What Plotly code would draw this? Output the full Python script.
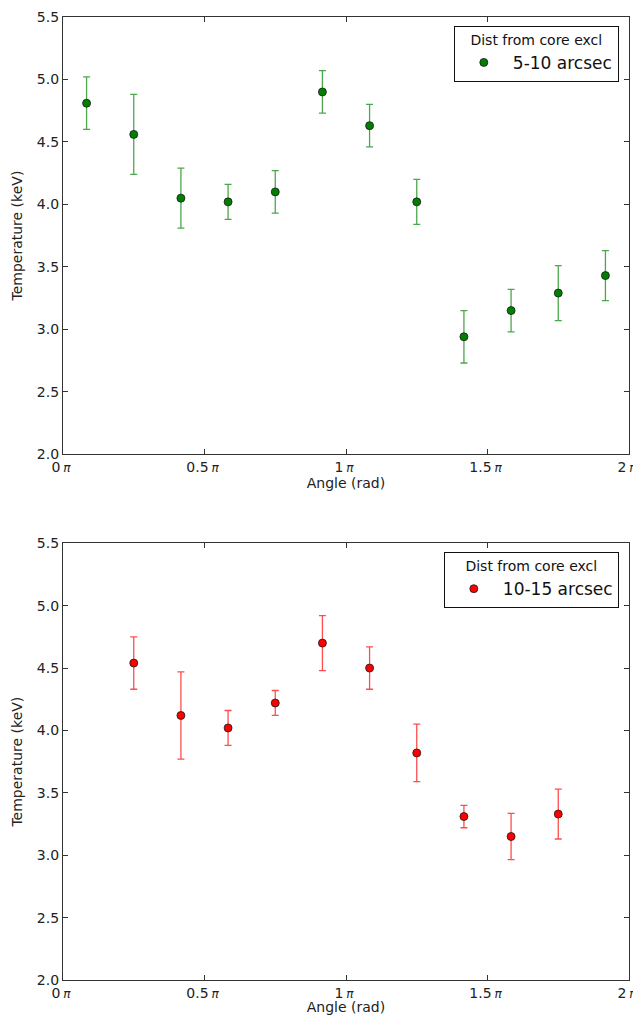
import numpy as np
import plotly.graph_objects as go

# Angle bin centres in units of pi
angles_top = [1/12, 3/12, 5/12, 7/12, 9/12, 11/12, 13/12, 15/12, 17/12, 19/12, 21/12, 23/12]
temp_top = [4.81, 4.56, 4.05, 4.02, 4.10, 4.90, 4.63, 4.02, 2.94, 3.15, 3.29, 3.43]
err_top = [0.21, 0.32, 0.24, 0.14, 0.17, 0.17, 0.17, 0.18, 0.21, 0.17, 0.22, 0.20]

angles_bot = [3/12, 5/12, 7/12, 9/12, 11/12, 13/12, 15/12, 17/12, 19/12, 21/12]
temp_bot = [4.54, 4.12, 4.02, 4.22, 4.70, 4.50, 3.82, 3.31, 3.15, 3.33]
err_bot = [0.21, 0.35, 0.14, 0.10, 0.22, 0.17, 0.23, 0.09, 0.185, 0.20]

xtick_vals = [0, 0.5, 1, 1.5, 2]
PI = "\u2009<span style='font-size:12px'><i>π</i></span>"
xtick_text = ["0" + PI, "0.5" + PI, "1" + PI, "1.5" + PI, "2" + PI]
ytick_vals = [2.0, 2.5, 3.0, 3.5, 4.0, 4.5, 5.0, 5.5]

FONT = "DejaVu Sans"
fig = go.Figure()

fig.add_trace(go.Scatter(
    x=[a * np.pi for a in angles_top], y=temp_top, mode="markers",
    name="5-10 arcsec", xaxis="x", yaxis="y", legend="legend",
    marker=dict(color="#008000", size=8, line=dict(color="#1a1a1a", width=0.8)),
    error_y=dict(type="data", array=err_top, visible=True,
                 color="rgba(0,128,0,0.7)", thickness=1.3, width=3.5),
))
fig.add_trace(go.Scatter(
    x=[a * np.pi for a in angles_bot], y=temp_bot, mode="markers",
    name="10-15 arcsec", xaxis="x2", yaxis="y2", legend="legend2",
    marker=dict(color="#ff0000", size=8, line=dict(color="#1a1a1a", width=0.8)),
    error_y=dict(type="data", array=err_bot, visible=True,
                 color="rgba(255,0,0,0.7)", thickness=1.3, width=3.5),
))

axis_common = dict(
    showline=True, linecolor="#333333", linewidth=1.3, mirror="ticks",
    ticks="inside", ticklen=5, tickwidth=1, tickcolor="#333333",
    showgrid=False, zeroline=False, automargin=False,
    tickfont=dict(family=FONT, size=14, color="#222222"),
)

xax = dict(axis_common, range=[0, 2 * np.pi],
           tickvals=[v * np.pi for v in xtick_vals], ticktext=xtick_text,
           ticklabelshift=-2, ticklabeloverflow="allow",
           title=dict(text="Angle (rad)", font=dict(family=FONT, size=14, color="#222222"), standoff=4))
yax = dict(axis_common, range=[2.0, 5.5], tickvals=ytick_vals,
           tickformat=".1f",
           title=dict(text="Temperature (keV)", font=dict(family=FONT, size=14, color="#222222"), standoff=10))

legend_common = dict(
    xref="paper", yref="paper", xanchor="right", yanchor="top",
    bgcolor="white", bordercolor="#111111", borderwidth=1,
    font=dict(family=FONT, size=17, color="#111111"),
    title=dict(font=dict(family=FONT, size=14, color="#111111"), side="top center"),
    itemsizing="trace", itemwidth=48,
)

fig.update_layout(
    template="none",
    width=633, height=1007,
    margin=dict(l=55, r=12, t=9, b=35, autoexpand=False),
    paper_bgcolor="white", plot_bgcolor="white",
    showlegend=True,
    xaxis=dict(xax, domain=[0, 1], anchor="y"),
    yaxis=dict(yax, domain=[0.546, 1.0], anchor="x"),
    xaxis2=dict(xax, domain=[0, 1], anchor="y2"),
    yaxis2=dict(yax, domain=[0.0, 0.4535], anchor="x2"),
    legend=dict(legend_common, x=0.982, y=0.991,
                title=dict(legend_common["title"], text="Dist from core excl")),
    legend2=dict(legend_common, x=0.982, y=0.4445,
                 title=dict(legend_common["title"], text="Dist from core excl")),
)

fig.write_html("out.html")
